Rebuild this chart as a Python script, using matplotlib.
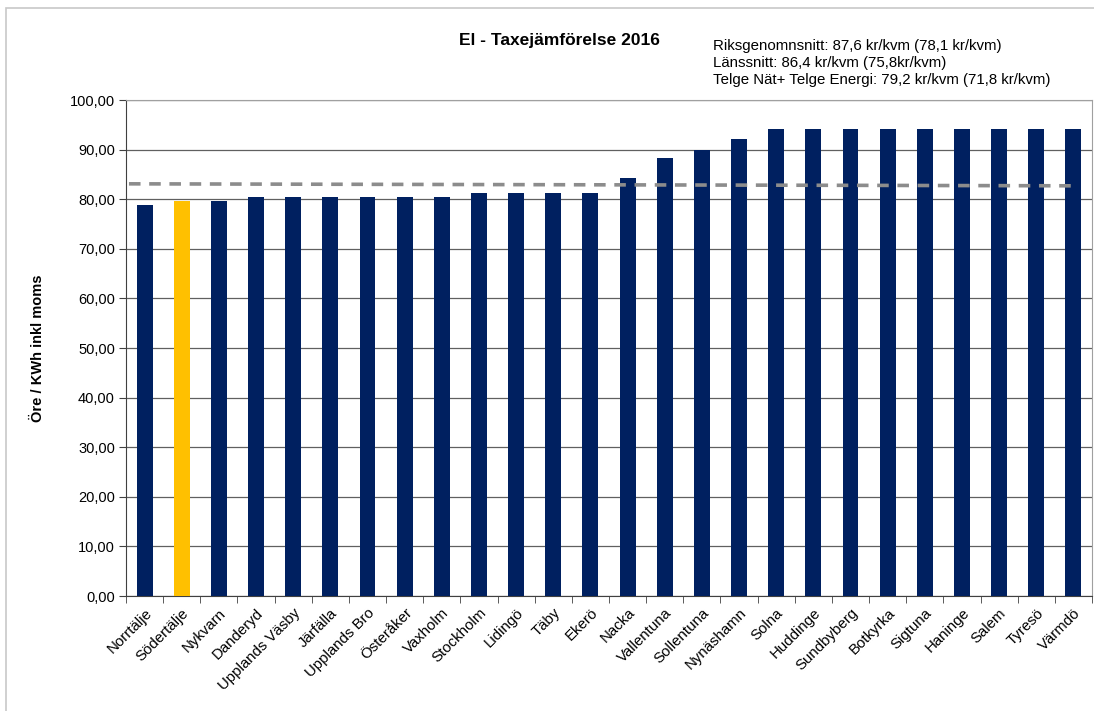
import numpy as np
import matplotlib.pyplot as plt
from matplotlib.patches import Rectangle

plt.rcParams['font.family'] = ['Liberation Sans', 'DejaVu Sans']

# data
kommuner = ["Norrtälje", "Södertälje", "Nykvarn", "Danderyd", "Upplands Väsby",
            "Järfälla", "Upplands Bro", "Österåker", "Vaxholm", "Stockholm",
            "Lidingö", "Täby", "Ekerö", "Nacka", "Vallentuna", "Sollentuna",
            "Nynäshamn", "Solna", "Huddinge", "Sundbyberg", "Botkyrka",
            "Sigtuna", "Haninge", "Salem", "Tyresö", "Värmdö"]
pris = [78.8, 79.7, 79.7, 80.4, 80.4, 80.4, 80.4, 80.4, 80.4, 81.3,
        81.3, 81.3, 81.3, 84.3, 88.3, 90.0, 92.2, 94.2, 94.2, 94.2,
        94.2, 94.2, 94.2, 94.2, 94.2, 94.2]
markerad = "Södertälje"
snitt_x = [-0.42, 25.0]
snitt_y = [83.1, 82.7]
yticks = np.arange(0, 101, 10)

title = "El - Taxejämförelse 2016"
info = ["Riksgenomnsnitt: 87,6 kr/kvm (78,1 kr/kvm)",
        "Länssnitt: 86,4 kr/kvm (75,8kr/kvm)",
        "Telge Nät+ Telge Energi: 79,2 kr/kvm (71,8 kr/kvm)"]

W, H = 1094, 711
fig = plt.figure(figsize=(W / 100, H / 100), dpi=100)
ax = fig.add_axes([126 / W, 1 - 596 / H, (1092 - 126) / W, (596 - 100) / H])

x = np.arange(len(kommuner))
colors = ["#FFC000" if k == markerad else "#002060" for k in kommuner]
ax.bar(x, pris, width=0.43, color=colors, zorder=3)
ax.plot(snitt_x, snitt_y, color="#8c8c8c", lw=2.6, ls=(0, (3.2, 2.4)), zorder=4)

ax.set_xlim(-0.5, len(kommuner) - 0.5)
ax.set_ylim(0, 100)
ax.set_yticks(yticks)
ax.set_yticklabels([f"{v:.2f}".replace(".", ",") for v in yticks], fontsize=10.5)
ax.yaxis.grid(True, color="#606060", lw=0.9, zorder=0)

ax.set_xticks(x)
ax.set_xticklabels(kommuner, rotation=45, ha="right", rotation_mode="anchor", fontsize=10.8)
ax.set_xticks(np.arange(-0.5, len(kommuner), 1), minor=True)
ax.tick_params(axis="x", which="major", length=0, pad=7)
ax.tick_params(axis="x", which="minor", length=5, color="#404040")
ax.tick_params(axis="y", length=5, color="#404040", pad=3)

for s in ["left", "bottom"]:
    ax.spines[s].set_color("#404040")
for s in ["top", "right"]:
    ax.spines[s].set_color("#a0a0a0")

ax.set_ylabel("Öre / KWh inkl moms", fontsize=10.5, fontweight="bold", labelpad=18)

fig.text(559 / W, 1 - 40 / H, title, ha="center", va="center", fontsize=12.5, fontweight="bold")
for i, line in enumerate(info):
    fig.text(713 / W, 1 - (46 + 17 * i) / H, line, ha="left", va="center", fontsize=10.8)

fig.patches.append(Rectangle((6 / W, -0.1), 2, 1.1 - 8 / H, transform=fig.transFigure,
                             fill=False, edgecolor="#c8c8c8", lw=1.2))

fig.savefig("out.png", dpi=100)
